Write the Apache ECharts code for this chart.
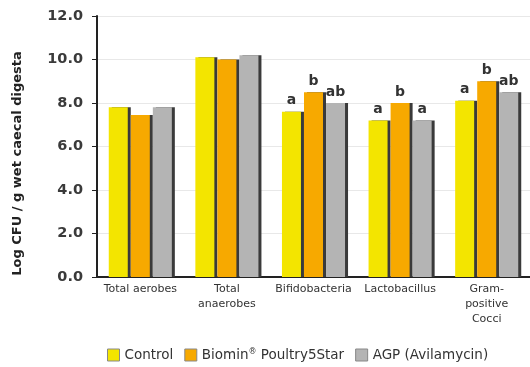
<!DOCTYPE html>
<html><head><meta charset="utf-8">
<script src="https://cdn.jsdelivr.net/npm/echarts@6/dist/echarts.min.js"></script>
<style>html,body{margin:0;padding:0;background:#fff}#c{width:530px;height:367px}</style>
</head><body><div id="c"></div>
<script>
var categories = ['Total aerobes', 'Total\nanaerobes', 'Bifidobacteria', 'Lactobacillus', 'Gram-\npositive\nCocci'];
var seriesNames = ['Control', 'Biomin\u00ae Poultry5Star', 'AGP (Avilamycin)'];
var controlValues = [7.8, 10.1, 7.6, 7.2, 8.1];
var biominValues = [7.45, 10.0, 8.5, 8.0, 9.0];
var agpValues = [7.8, 10.2, 8.0, 7.2, 8.5];
var controlLetters = ['', '', 'a', 'a', 'a'];
var biominLetters = ['', '', 'b', 'b', 'b'];
var agpLetters = ['', '', 'ab', 'a', 'ab'];
var yTicks = [0, 2, 4, 6, 8, 10, 12];

var colors = ['#f3e500', '#f7a900', '#b4b4b4'];
var allValues = [controlValues, biominValues, agpValues];
var allLetters = [controlLetters, biominLetters, agpLetters];

var chart = echarts.init(document.getElementById('c'));
chart.setOption({
  animation: false,
  grid: { left: 97, right: -2, top: 16, bottom: 90 },
  legend: {
    bottom: 0, left: 102,
    itemWidth: 12, itemHeight: 12, itemGap: 11,
    icon: 'rect',
    textStyle: { fontSize: 13.5, color: '#333', fontFamily: 'DejaVu Sans',
      rich: { sup: { fontSize: 8, color: '#333', verticalAlign: 'top', padding: [0, 0, 6, 0], fontFamily: 'DejaVu Sans' } } },
    formatter: function (n) { return n.replace('\u00ae', '{sup|\u00ae}'); },
    data: seriesNames.map(function (n, i) {
      return { name: n, itemStyle: { borderColor: '#888', borderWidth: 1 } };
    })
  },
  xAxis: {
    type: 'category', data: categories,
    axisLine: { lineStyle: { color: '#222', width: 2 } },
    axisTick: { show: false },
    axisLabel: { fontSize: 11, color: '#333', fontFamily: 'DejaVu Sans', lineHeight: 15, interval: 0, margin: 5 }
  },
  yAxis: {
    type: 'value', min: yTicks[0], max: yTicks[yTicks.length - 1], interval: 2,
    name: 'Log CFU / g wet caecal digesta', nameLocation: 'middle', nameGap: 73,
    nameTextStyle: { fontSize: 13, fontWeight: 'bold', color: '#222', fontFamily: 'DejaVu Sans', padding: [0, 34, 0, 0] },
    axisLine: { show: true, lineStyle: { color: '#222', width: 2 } },
    axisTick: { show: true, length: 5, lineStyle: { color: '#222' } },
    axisLabel: { fontSize: 14.5, fontWeight: 'bold', color: '#3a3a3a', fontFamily: 'DejaVu Sans', margin: 14,
      formatter: function (v) { return v.toFixed(1); } },
    splitLine: { lineStyle: { color: '#e8e8e8' } }
  },
  series: seriesNames.map(function (n, i) {
    return {
      name: n, type: 'bar', data: allValues[i],
      barWidth: 19, barGap: '16%',
      itemStyle: { color: colors[i], shadowColor: '#3a3a3a', shadowOffsetX: 3, shadowOffsetY: 0, shadowBlur: 0 },
      label: {
        show: true, position: 'top', distance: 4,
        fontSize: 14, fontWeight: 'bold', color: '#333', fontFamily: 'DejaVu Sans',
        formatter: function (p) { return allLetters[i][p.dataIndex]; }
      }
    };
  })
});
</script></body></html>
